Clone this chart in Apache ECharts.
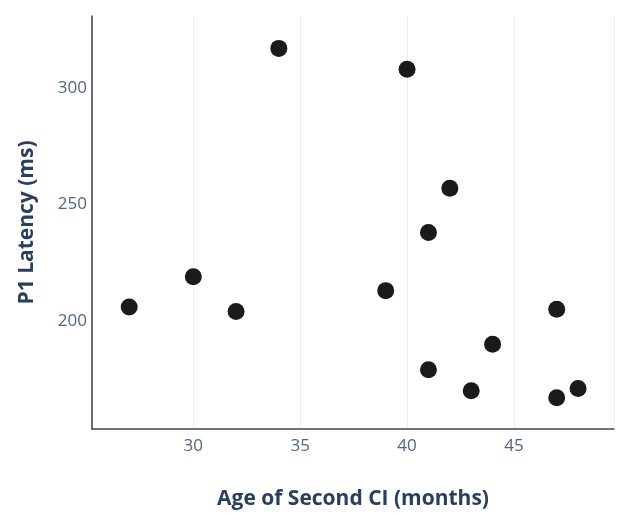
<!DOCTYPE html>
<html>
<head>
<meta charset="utf-8">
<script src="https://cdn.jsdelivr.net/npm/echarts@6/dist/echarts.min.js"></script>
<style>
  html, body { margin: 0; padding: 0; background: #fff; }
  #chart { width: 618px; height: 513px; }
</style>
</head>
<body>
<div id="chart"></div>
<script>
// age of second CI (months) and P1 latency (ms)
const ages = [27, 30, 32, 34, 39, 40, 41, 41, 42, 43, 44, 47, 47, 48]
const latencies = [206, 219, 204, 317, 213, 308, 238, 179, 257, 170, 190, 205, 167, 171]
const xTicks = [30, 35, 40, 45]
const yTicks = [200, 250, 300]

const points = ages.map((a, i) => [a, latencies[i]])

const chart = echarts.init(document.getElementById('chart'))
chart.setOption({
  animation: false,
  textStyle: { fontFamily: 'Open Sans' },
  grid: { left: 92, right: 4, top: 16, bottom: 84, outerBoundsMode: 'none' },
  xAxis: {
    type: 'value',
    min: 25.26,
    max: 49.68,
    name: 'Age of Second CI (months)',
    nameLocation: 'middle',
    nameGap: 60,
    nameTextStyle: { color: '#2a3f5f', fontSize: 21, fontWeight: 'bold' },
    axisLine: { show: true, lineStyle: { color: '#444', width: 1.5 } },
    axisTick: { show: false },
    axisLabel: {
      color: '#506784',
      fontSize: 17,
      margin: 9,
      customValues: xTicks
    },
    splitLine: { show: true, lineStyle: { color: '#eeeeee' } },
    splitNumber: 5
  },
  yAxis: {
    type: 'value',
    min: 153.6,
    max: 330.9,
    name: 'P1 Latency (ms)',
    nameLocation: 'middle',
    nameGap: 54,
    nameTextStyle: { color: '#2a3f5f', fontSize: 21, fontWeight: 'bold' },
    axisLine: { show: true, lineStyle: { color: '#444', width: 1.5 } },
    axisTick: { show: false },
    axisLabel: {
      color: '#506784',
      fontSize: 17,
      margin: 5,
      customValues: yTicks
    },
    splitLine: { show: false }
  },
  series: [
    {
      type: 'scatter',
      data: points,
      symbolSize: 17,
      itemStyle: { color: '#1a1a1a', opacity: 1 }
    }
  ]
})
</script>
</body>
</html>
